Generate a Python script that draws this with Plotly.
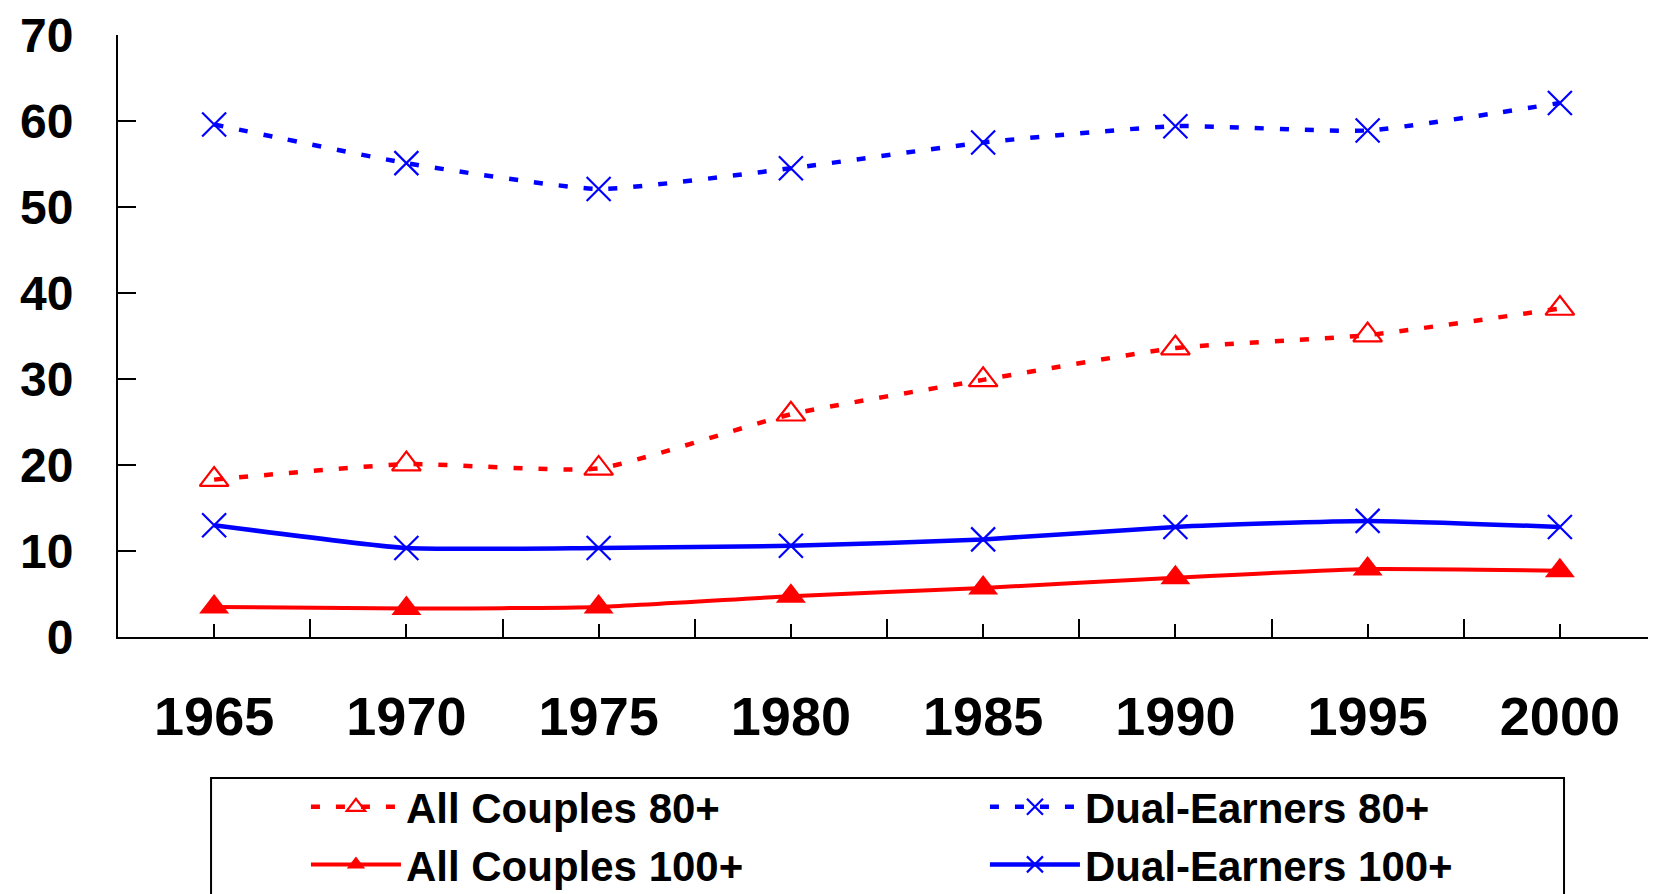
import plotly.graph_objects as go

years = [1965, 1970, 1975, 1980, 1985, 1990, 1995, 2000]
tick_labels = ["1965", "1970", "1975", "1980", "1985", "1990", "1995", "2000"]
all_couples_80 = [18.3, 20.1, 19.6, 25.9, 29.9, 33.6, 35.1, 38.2]
dual_earners_80 = [59.6, 55.1, 52.1, 54.5, 57.5, 59.4, 58.9, 62.1]
all_couples_100 = [3.5, 3.3, 3.5, 4.75, 5.7, 6.9, 7.9, 7.7]
dual_earners_100 = [13.0, 10.35, 10.35, 10.6, 11.35, 12.8, 13.5, 12.8]
minor_ticks = [1967.5, 1972.5, 1977.5, 1982.5, 1987.5, 1992.5, 1997.5]

RED = "#FF0000"
BLUE = "#0000FF"
DASH = "9px,16px"
SMOOTH = 0.5

fig = go.Figure()
fig.add_trace(go.Scatter(
    x=years, y=all_couples_80, name="All Couples 80+", mode="lines+markers",
    line=dict(color=RED, width=4.5, dash=DASH, shape="spline", smoothing=SMOOTH),
    marker=dict(symbol="triangle-up-open", size=25, color=RED, line=dict(width=2.2, color=RED)),
))
fig.add_trace(go.Scatter(
    x=years, y=dual_earners_80, name="Dual-Earners 80+", mode="lines+markers",
    line=dict(color=BLUE, width=4.5, dash=DASH, shape="spline", smoothing=SMOOTH),
    marker=dict(symbol="x-thin", size=24, color=BLUE, line=dict(width=2.2, color=BLUE)),
))
fig.add_trace(go.Scatter(
    x=years, y=all_couples_100, name="All Couples 100+", mode="lines+markers",
    line=dict(color=RED, width=4, shape="spline", smoothing=SMOOTH),
    marker=dict(symbol="triangle-up", size=26, color=RED),
))
fig.add_trace(go.Scatter(
    x=years, y=dual_earners_100, name="Dual-Earners 100+", mode="lines+markers",
    line=dict(color=BLUE, width=4.5, shape="spline", smoothing=SMOOTH),
    marker=dict(symbol="x-thin", size=24, color=BLUE, line=dict(width=2.2, color=BLUE)),
))

FONT = "Liberation Sans, Arial, sans-serif"

fig.update_layout(
    width=1648, height=886,
    paper_bgcolor="white", plot_bgcolor="white",
    margin=dict(l=110, r=0, t=27, b=257, autoexpand=False),
    font=dict(family=FONT, color="black"),
    showlegend=True,
    legend=dict(
        orientation="h", x=0.1222, y=-0.2259, xanchor="left", yanchor="top",
        borderwidth=0, bgcolor="rgba(0,0,0,0)",
        font=dict(family=FONT, size=42, color="black", weight="bold"),
        itemwidth=90, entrywidth=574, entrywidthmode="pixels",
        traceorder="normal",
    ),
    shapes=[dict(
        type="rect", xref="paper", yref="paper",
        x0=0.0605, x1=0.9402, y0=-0.4502, y1=-0.2342,
        line=dict(color="black", width=2), fillcolor="rgba(0,0,0,0)", layer="below",
    )],
    xaxis=dict(
        range=[1962.5, 2002.5], tickvals=years, ticktext=tick_labels,
        ticks="inside", ticklen=13, tickwidth=2, tickcolor="black",
        minor=dict(tickvals=minor_ticks, ticks="inside", ticklen=18, tickwidth=2, tickcolor="black"),
        showline=True, linecolor="black", linewidth=2,
        showgrid=False, zeroline=False,
        tickfont=dict(family=FONT, size=54, color="black", weight="bold"),
        ticklabelstandoff=31, ticklabeloverflow="allow",
    ),
    yaxis=dict(
        range=[0, 70], tickvals=[0, 10, 20, 30, 40, 50, 60, 70],
        ticks="inside", ticklen=18, tickwidth=2, tickcolor="black",
        showline=True, linecolor="black", linewidth=2,
        showgrid=False, zeroline=False,
        tickfont=dict(family=FONT, size=48, color="black", weight="bold"),
        ticklabelstandoff=33, ticklabeloverflow="allow",
    ),
)

fig.write_html("out.html")
